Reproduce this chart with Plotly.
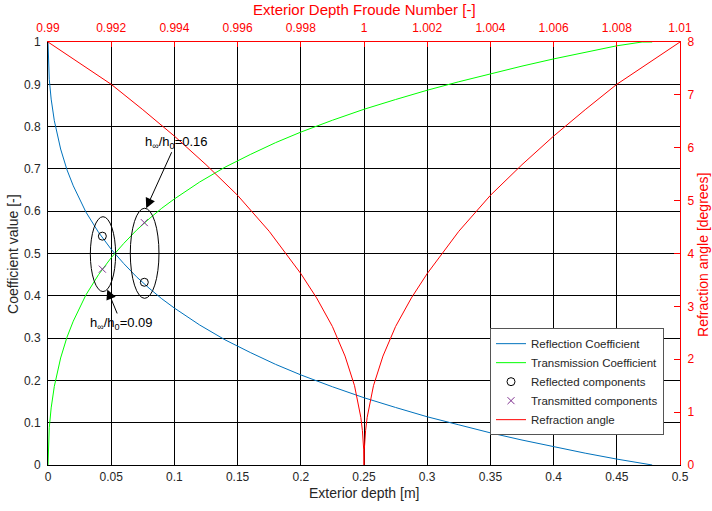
import plotly.graph_objects as go

# ---------------- data ----------------
depth = [0, 0.0005, 0.001, 0.0025, 0.005, 0.01, 0.015, 0.02, 0.03, 0.04, 0.05,
         0.06, 0.07, 0.08, 0.09, 0.1, 0.12, 0.14, 0.16, 0.18, 0.2, 0.225, 0.25,
         0.275, 0.3, 0.325, 0.35, 0.375, 0.4, 0.425, 0.45, 0.47, 0.478]
refl = [1.0, 0.937, 0.912, 0.865, 0.814, 0.747, 0.698, 0.660, 0.598, 0.550, 0.510,
        0.476, 0.445, 0.418, 0.393, 0.371, 0.331, 0.296, 0.266, 0.238, 0.213, 0.185, 0.159,
        0.136, 0.114, 0.095, 0.076, 0.059, 0.043, 0.028, 0.014, 0.004, 0.0]
trans = [0.0, 0.063, 0.088, 0.135, 0.186, 0.253, 0.302, 0.340, 0.402, 0.450, 0.490,
         0.524, 0.555, 0.582, 0.607, 0.629, 0.669, 0.704, 0.734, 0.762, 0.787, 0.815, 0.841,
         0.864, 0.886, 0.906, 0.925, 0.943, 0.960, 0.976, 0.991, 1.0, 1.0]

froude = [0.99, 0.991, 0.992, 0.993, 0.994, 0.995, 0.996, 0.997, 0.998, 0.9985,
          0.999, 0.9994, 0.9997, 0.9999, 0.99995, 0.99999, 1.0, 1.00001, 1.00005,
          1.0001, 1.0003, 1.0006, 1.001, 1.0015, 1.002, 1.003, 1.004, 1.005, 1.006,
          1.007, 1.008, 1.009, 1.01]
angle = [8.0, 7.6, 7.2, 6.72, 6.22, 5.68, 5.10, 4.42, 3.62, 3.16,
         2.62, 2.06, 1.50, 0.90, 0.65, 0.30, 0.0, 0.30, 0.65,
         0.90, 1.50, 2.06, 2.62, 3.16, 3.62, 4.42, 5.10, 5.68, 6.22,
         6.72, 7.2, 7.6, 8.0]

refl_comp_x = [0.043, 0.0762]
refl_comp_y = [0.541, 0.432]
trans_comp_x = [0.043, 0.0762]
trans_comp_y = [0.463, 0.573]

depth_ticks = [0, 0.05, 0.1, 0.15, 0.2, 0.25, 0.3, 0.35, 0.4, 0.45, 0.5]
depth_ticktext = ["0", "0.05", "0.1", "0.15", "0.2", "0.25", "0.3", "0.35", "0.4", "0.45", "0.5"]
froude_ticks = [0.99, 0.992, 0.994, 0.996, 0.998, 1.0, 1.002, 1.004, 1.006, 1.008, 1.01]
froude_ticktext = ["0.99", "0.992", "0.994", "0.996", "0.998", "1", "1.002", "1.004", "1.006", "1.008", "1.01"]
coef_ticks = [0, 0.1, 0.2, 0.3, 0.4, 0.5, 0.6, 0.7, 0.8, 0.9, 1]
coef_ticktext = ["0", "0.1", "0.2", "0.3", "0.4", "0.5", "0.6", "0.7", "0.8", "0.9", "1"]
angle_ticks = [0, 1, 2, 3, 4, 5, 6, 7, 8]
angle_ticktext = ["0", "1", "2", "3", "4", "5", "6", "7", "8"]

# ---------------- figure ----------------
FONT = "Arial, Liberation Sans, sans-serif"
DARK = "#262626"
RED = "#FF0000"

fig = go.Figure()
fig.add_trace(go.Scatter(x=depth, y=refl, mode="lines", name="Reflection Coefficient",
                         line=dict(color="#0072BD", width=1)))
fig.add_trace(go.Scatter(x=depth, y=trans, mode="lines", name="Transmission Coefficient",
                         line=dict(color="#00FF00", width=1)))
fig.add_trace(go.Scatter(x=refl_comp_x, y=refl_comp_y, mode="markers", name="Reflected components",
                         marker=dict(symbol="circle-open", size=8, color="black", line=dict(width=1))))
fig.add_trace(go.Scatter(x=trans_comp_x, y=trans_comp_y, mode="markers", name="Transmitted components",
                         marker=dict(symbol="x-thin-open", size=7, color="#7E2F8E", line=dict(width=1, color="#7E2F8E"))))
fig.add_trace(go.Scatter(x=froude, y=angle, mode="lines", name="Refraction angle",
                         xaxis="x2", yaxis="y2", line=dict(color=RED, width=1)))

tickfont = dict(family=FONT, size=12, color=DARK)
redfont = dict(family=FONT, size=12, color=RED)

fig.update_layout(
    width=712, height=511,
    margin=dict(l=48, r=32, t=42, b=46),
    paper_bgcolor="white", plot_bgcolor="white",
    font=dict(family=FONT, color=DARK),
    xaxis=dict(range=[0, 0.5], tickvals=depth_ticks, ticktext=depth_ticktext,
               showgrid=True, gridcolor="black", gridwidth=1, zeroline=False,
               showline=True, linecolor="black", linewidth=1, ticks="",
               tickfont=tickfont, automargin=False, ticklabelstandoff=1),
    xaxis2=dict(range=[0.99, 1.01], overlaying="x", side="top", anchor="y",
                tickvals=froude_ticks, ticktext=froude_ticktext,
                showgrid=False, zeroline=False, showline=True, linecolor=RED, linewidth=1,
                ticks="inside", ticklen=5, tickcolor=RED, tickfont=redfont, automargin=False,
                ticklabelstandoff=4),
    yaxis=dict(range=[0, 1], tickvals=coef_ticks, ticktext=coef_ticktext,
               showgrid=True, gridcolor="black", gridwidth=1, zeroline=False,
               showline=True, linecolor="black", linewidth=1, ticks="",
               tickfont=tickfont, automargin=False, ticklabelstandoff=4),
    yaxis2=dict(range=[0, 8], overlaying="y", side="right", anchor="x",
                tickvals=angle_ticks, ticktext=angle_ticktext,
                showgrid=False, zeroline=False, showline=True, linecolor=RED, linewidth=1,
                ticks="inside", ticklen=6, tickcolor=RED, tickfont=redfont, automargin=False,
                ticklabelstandoff=4),
    legend=dict(x=0.9747, xanchor="right", y=0.197, yanchor="middle",
                bgcolor="white", bordercolor="#555555", borderwidth=1,
                font=dict(family=FONT, size=11.5, color=DARK), tracegroupgap=0),
    showlegend=True,
)

# ellipses around the component pairs
fig.add_shape(type="circle", xref="x", yref="y", x0=0.0335, x1=0.0535, y0=0.41, y1=0.587,
              line=dict(color="black", width=1))
fig.add_shape(type="circle", xref="x", yref="y", x0=0.0651, x1=0.0878, y0=0.394, y1=0.607,
              line=dict(color="black", width=1))

# arrow annotations
fig.add_annotation(x=0.0777, y=0.607, xref="x", yref="y",
                   text="h<sub>∞</sub>/h<sub>0</sub>=0.16", showarrow=True,
                   ax=30, ay=-66, arrowhead=2, arrowsize=2, arrowwidth=1, arrowcolor="black",
                   font=dict(family=FONT, size=13, color="black"))
fig.add_annotation(x=0.0469, y=0.415, xref="x", yref="y",
                   text="h<sub>∞</sub>/h<sub>0</sub>=0.09", showarrow=True,
                   ax=14, ay=34, arrowhead=2, arrowsize=2, arrowwidth=1, arrowcolor="black",
                   font=dict(family=FONT, size=13, color="black"))

# axis titles
fig.add_annotation(x=0.5, y=-0.0662, xref="paper", yref="paper", showarrow=False,
                   xanchor="center", yanchor="middle",
                   text="Exterior depth [m]", font=dict(family=FONT, size=14, color=DARK))
fig.add_annotation(x=-0.0562, y=0.5, xref="paper", yref="paper", showarrow=False, textangle=-90,
                   xanchor="center", yanchor="middle",
                   text="Coefficient value [-]", font=dict(family=FONT, size=14, color=DARK))
fig.add_annotation(x=1.036, y=0.496, xref="paper", yref="paper", showarrow=False, textangle=-90,
                   xanchor="center", yanchor="middle",
                   text="Refraction angle [degrees]", font=dict(family=FONT, size=14, color=RED))
fig.add_annotation(x=0.5, y=1.078, xref="paper", yref="paper", showarrow=False,
                   xanchor="center", yanchor="middle",
                   text="Exterior Depth Froude Number [-]", font=dict(family=FONT, size=15, color=RED))

fig.write_html("out.html", config={"displayModeBar": False},
               post_script="document.body.style.margin='0';")
